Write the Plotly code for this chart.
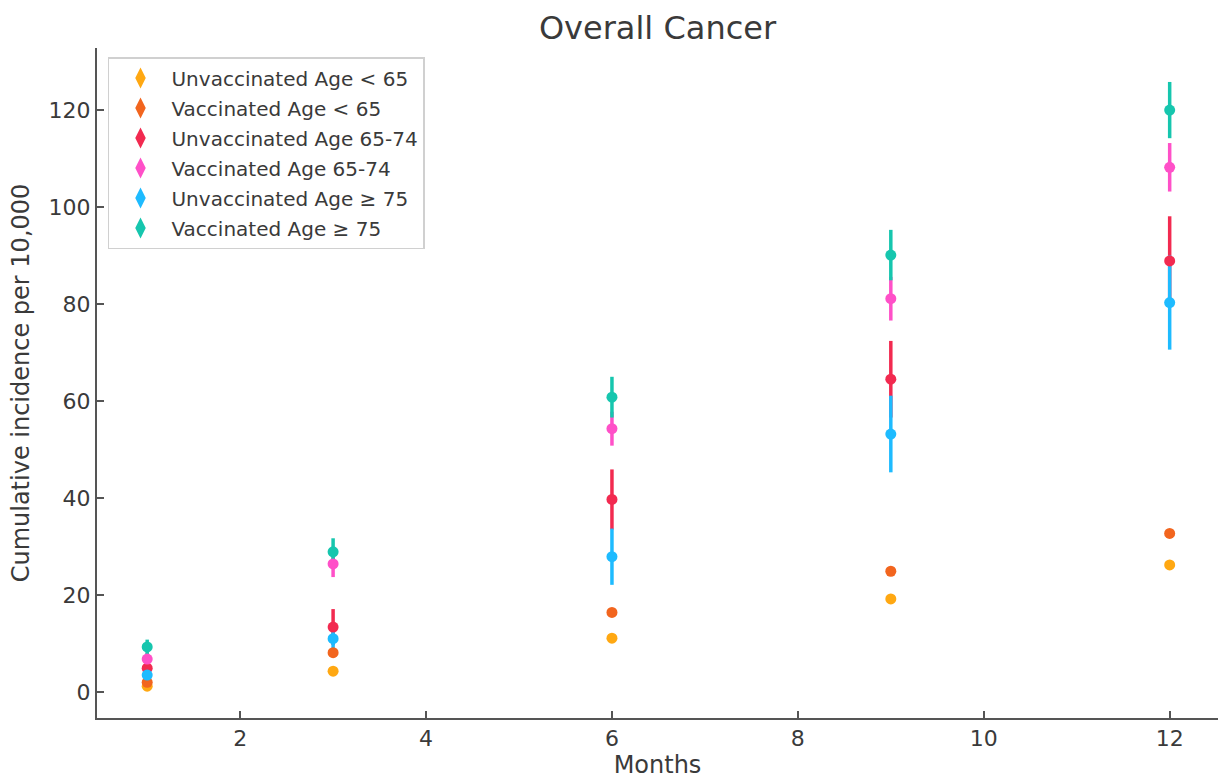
import plotly.graph_objects as go

months = [1, 3, 6, 9, 12]

series_names = [
    "Unvaccinated Age < 65",
    "Vaccinated Age < 65",
    "Unvaccinated Age 65-74",
    "Vaccinated Age 65-74",
    "Unvaccinated Age ≥ 75",
    "Vaccinated Age ≥ 75",
]

unvacc_lt65 = [1.2, 4.3, 11.1, 19.2, 26.2]
vacc_lt65 = [2.0, 8.1, 16.4, 24.9, 32.7]
unvacc_65_74 = [4.9, 13.4, 39.7, 64.5, 88.9]
vacc_65_74 = [6.8, 26.4, 54.3, 81.1, 108.2]
unvacc_ge75 = [3.5, 11.0, 27.9, 53.2, 80.3]
vacc_ge75 = [9.3, 28.9, 60.8, 90.1, 120.0]

err_unvacc_lt65 = [0, 0, 0, 0, 0]
err_vacc_lt65 = [0, 0, 0, 0, 0]
err_unvacc_65_74 = [1.2, 3.7, 6.2, 7.9, 9.2]
err_vacc_65_74 = [1.3, 2.7, 3.5, 4.5, 5.0]
err_unvacc_ge75 = [1.0, 3.0, 5.8, 7.9, 9.7]
err_vacc_ge75 = [1.5, 2.8, 4.2, 5.2, 5.8]

colors = ["#FFA812", "#F2651E", "#F22A50", "#FF50C8", "#1EBBFF", "#16C6AE"]

values = [unvacc_lt65, vacc_lt65, unvacc_65_74, vacc_65_74, unvacc_ge75, vacc_ge75]
errors = [err_unvacc_lt65, err_vacc_lt65, err_unvacc_65_74, err_vacc_65_74,
          err_unvacc_ge75, err_vacc_ge75]

TEXT = "#3a3a3a"

fig = go.Figure()

# error bars first (below all markers, as in matplotlib)
for name, ys, es, c in zip(series_names, values, errors, colors):
    fig.add_trace(go.Scatter(
        x=months, y=ys, mode="markers",
        marker=dict(size=10, color=c, opacity=0),
        error_y=dict(type="data", array=es, visible=True, color=c,
                     thickness=3.5, width=0),
        showlegend=False, legendgroup=name, hoverinfo="skip",
    ))

# markers on top
for name, ys, c in zip(series_names, values, colors):
    fig.add_trace(go.Scatter(
        x=months, y=ys, mode="markers", name=name,
        marker=dict(size=11, color=c, symbol="circle"),
        legendgroup=name, showlegend=False,
    ))

# legend entries (marker with error bar look)
for name, c in zip(series_names, colors):
    fig.add_trace(go.Scatter(
        x=[None], y=[None], mode="markers", name=name,
        marker=dict(size=15, color=c, symbol="diamond-tall"),
        legendgroup=name, showlegend=True,
    ))

axis_common = dict(
    showgrid=False, zeroline=False, showline=True, linecolor="#555555",
    linewidth=2, ticks="inside", ticklen=7, tickwidth=1.5, tickcolor="#555555",
    tickfont=dict(size=22, color=TEXT),
    mirror=False, automargin=False,
)

fig.update_layout(
    width=1221, height=780,
    paper_bgcolor="white", plot_bgcolor="white",
    font=dict(family="DejaVu Sans", color=TEXT),
    title=dict(text="Overall Cancer", x=0.5, xref="paper", xanchor="center",
               y=0.964, yanchor="middle", font=dict(size=32, color=TEXT)),
    margin=dict(l=97, r=3, t=48, b=62),
    xaxis=dict(range=[0.46, 12.52], tickmode="linear", tick0=2, dtick=2,
               title=dict(text="Months", font=dict(size=24, color=TEXT), standoff=6),
               **axis_common),
    yaxis=dict(range=[-5.36, 132.8], tickmode="linear", tick0=0, dtick=20,
               title=dict(text="Cumulative incidence per 10,000",
                          font=dict(size=24, color=TEXT), standoff=12),
               **axis_common),
    legend=dict(x=0.0098, y=0.9865, xanchor="left", yanchor="top",
                bgcolor="white", bordercolor="#d0d0d0", borderwidth=1.5,
                font=dict(size=20, color=TEXT), tracegroupgap=1,
                itemwidth=52),
)

fig.write_html("out.html", config={"displayModeBar": False},
               post_script="document.body.style.margin='0';")
